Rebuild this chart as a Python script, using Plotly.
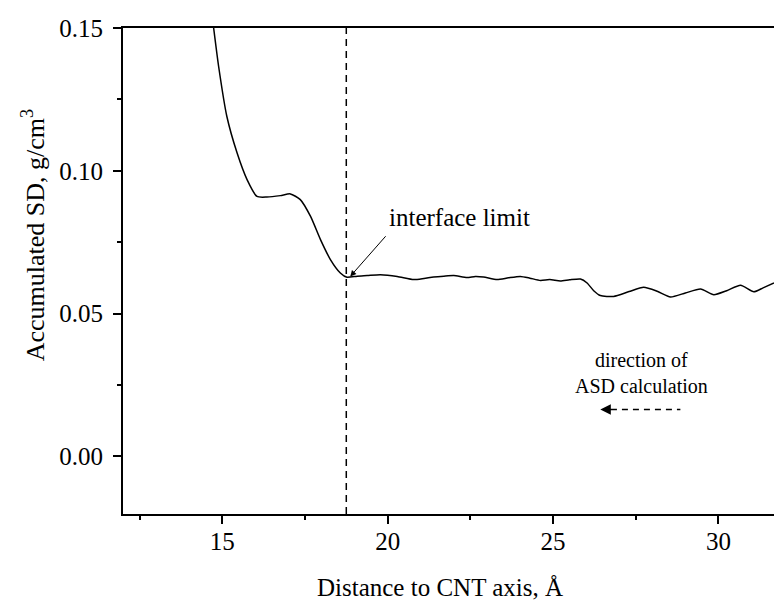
import plotly.graph_objects as go

# Curve data
distance = [14.74, 14.89, 15.14, 15.45, 15.75, 16.05, 16.35, 16.76, 17.06, 17.36,
            17.67, 17.97, 18.27, 18.57, 18.77, 19.08, 19.38, 19.78, 20.29, 20.79,
            21.10, 21.39, 21.70, 22.00, 22.40, 22.65, 22.90, 23.31, 23.65, 24.01,
            24.30, 24.62, 24.90, 25.22, 25.50, 25.83, 26.03, 26.23, 26.43, 26.83,
            27.30, 27.74, 28.15, 28.55, 29.00, 29.46, 29.86, 30.25, 30.67, 31.07,
            31.35, 31.68]
asd = [0.1500, 0.1366, 0.1190, 0.1062, 0.0969, 0.0910, 0.0908, 0.0913, 0.0919, 0.0899,
       0.0840, 0.0759, 0.0689, 0.0642, 0.0627, 0.0631, 0.0633, 0.0636, 0.0630, 0.0619,
       0.0623, 0.0628, 0.0631, 0.0633, 0.0626, 0.0630, 0.0628, 0.0619, 0.0625, 0.0630,
       0.0624, 0.0616, 0.0619, 0.0614, 0.0618, 0.0621, 0.0607, 0.0580, 0.0563, 0.0560,
       0.0577, 0.0592, 0.0578, 0.0558, 0.0572, 0.0586, 0.0566, 0.0580, 0.0599, 0.0576,
       0.0590, 0.0607]

x_ticks = [15, 20, 25, 30]
y_ticks = [0.00, 0.05, 0.10, 0.15]
interface_x = 18.75

FONT = "Liberation Serif"

fig = go.Figure()
fig.add_trace(go.Scatter(x=distance, y=asd, mode="lines",
                         line=dict(color="black", width=1.5, shape="spline", smoothing=0.6),
                         showlegend=False, hoverinfo="skip"))

# vertical dashed interface line
fig.add_shape(type="line", xref="x", yref="paper", x0=interface_x, x1=interface_x,
              y0=0, y1=1, line=dict(color="black", width=1.5, dash="7px,5px"))

# interface limit arrow and text
fig.add_annotation(x=18.87, y=0.0630, ax=19.98, ay=0.0776, xref="x", yref="y",
                   axref="x", ayref="y", text="", showarrow=True, arrowhead=2,
                   arrowsize=1.2, arrowwidth=1, arrowcolor="black")
fig.add_annotation(x=19.98, y=0.0835, xref="x", yref="y", text="interface limit",
                   showarrow=False, xanchor="left", yanchor="middle",
                   font=dict(family=FONT, size=25, color="black"))

# direction of ASD calculation
fig.add_annotation(x=27.67, y=0.0292, xref="x", yref="y",
                   text="direction of<br>ASD calculation",
                   showarrow=False, xanchor="center", yanchor="middle",
                   font=dict(family=FONT, size=20, color="black"))
fig.add_shape(type="line", xref="x", yref="y", x0=26.75, x1=28.85, y0=0.0164, y1=0.0164,
              line=dict(color="black", width=1.5, dash="6px,5px"))
fig.add_annotation(x=26.43, y=0.0164, ax=26.80, ay=0.0164, xref="x", yref="y",
                   axref="x", ayref="y", text="", showarrow=True, arrowhead=2,
                   arrowsize=1.4, arrowwidth=1.5, arrowcolor="black")

# axis titles
fig.add_annotation(x=0.487, y=-0.152, xref="paper", yref="paper",
                   text="Distance to CNT axis, Å", showarrow=False,
                   xanchor="center", yanchor="middle",
                   font=dict(family=FONT, size=25, color="black"))
fig.add_annotation(x=-0.137, y=0.573, xref="paper", yref="paper",
                   text="Accumulated SD, g/cm<sup>3</sup>", showarrow=False,
                   textangle=-90, xanchor="center", yanchor="middle",
                   font=dict(family=FONT, size=26, color="black"))

fig.update_layout(
    width=774, height=604,
    margin=dict(l=123, r=0, t=28, b=90),
    paper_bgcolor="white", plot_bgcolor="white",
    font=dict(family=FONT, size=25, color="black"),
    xaxis=dict(range=[12, 31.68], tickvals=x_ticks, ticks="outside", ticklen=8,
               tickwidth=1.5, tickcolor="black", showline=True, linewidth=2,
               linecolor="black", mirror=True, showgrid=False, zeroline=False,
               ticklabelstandoff=-4,
               minor=dict(dtick=2.5, tick0=0, ticks="outside", ticklen=4,
                          tickwidth=1.5, tickcolor="black", showgrid=False)),
    yaxis=dict(range=[-0.0202, 0.15], tickvals=y_ticks, tickformat=".2f",
               ticks="outside", ticklen=8, tickwidth=1.5, tickcolor="black",
               showline=True, linewidth=2, linecolor="black", showgrid=False,
               zeroline=False, ticklabelstandoff=5,
               minor=dict(dtick=0.025, tick0=0, ticks="outside", ticklen=4,
                          tickwidth=1.5, tickcolor="black", showgrid=False)),
)

fig.write_html("out.html")
